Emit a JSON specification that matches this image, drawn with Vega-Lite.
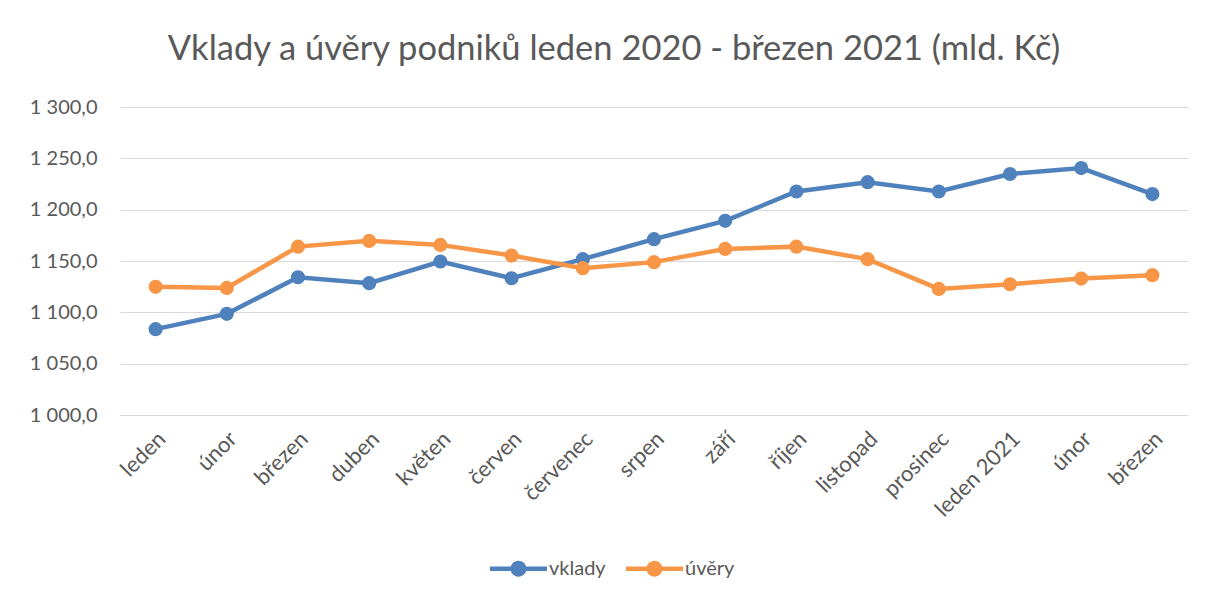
{
  "$schema": "https://vega.github.io/schema/vega-lite/v6.json",
  "width": 1068,
  "height": 308,
  "autosize": "none",
  "padding": {"left": 120, "top": 107, "right": 19, "bottom": 186},
  "background": "white",
  "config": {
    "locale": {"number": {"decimal": ",", "thousands": " ", "grouping": [3], "currency": ["", " Kč"]}},
    "font": "Lato",
    "view": {"stroke": null},
    "axis": {"labelFont": "Lato", "labelColor": "#595959", "labelFontSize": 20}
  },
  "title": {
    "text": "Vklady a úvěry podniků leden 2020 - březen 2021 (mld. Kč)",
    "font": "Lato",
    "fontSize": 34.5,
    "fontWeight": "normal",
    "color": "#595959",
    "anchor": "middle",
    "offset": 30,
    "dx": -40
  },
  "data": {
    "values": [
      {"mesic": "leden", "i": 1, "rada": "vklady", "hodnota": 1083.6},
      {"mesic": "únor", "i": 2, "rada": "vklady", "hodnota": 1098.5},
      {"mesic": "březen", "i": 3, "rada": "vklady", "hodnota": 1134.2},
      {"mesic": "duben", "i": 4, "rada": "vklady", "hodnota": 1128.4},
      {"mesic": "květen", "i": 5, "rada": "vklady", "hodnota": 1149.5},
      {"mesic": "červen", "i": 6, "rada": "vklady", "hodnota": 1133.2},
      {"mesic": "červenec", "i": 7, "rada": "vklady", "hodnota": 1151.8},
      {"mesic": "srpen", "i": 8, "rada": "vklady", "hodnota": 1171.3},
      {"mesic": "září", "i": 9, "rada": "vklady", "hodnota": 1189.1},
      {"mesic": "říjen", "i": 10, "rada": "vklady", "hodnota": 1217.7},
      {"mesic": "listopad", "i": 11, "rada": "vklady", "hodnota": 1226.8},
      {"mesic": "prosinec", "i": 12, "rada": "vklady", "hodnota": 1217.7},
      {"mesic": "leden 2021", "i": 13, "rada": "vklady", "hodnota": 1234.7},
      {"mesic": "únor ", "i": 14, "rada": "vklady", "hodnota": 1240.5},
      {"mesic": "březen ", "i": 15, "rada": "vklady", "hodnota": 1215.2},
      {"mesic": "leden", "i": 1, "rada": "úvěry", "hodnota": 1124.8},
      {"mesic": "únor", "i": 2, "rada": "úvěry", "hodnota": 1123.8},
      {"mesic": "březen", "i": 3, "rada": "úvěry", "hodnota": 1164.0},
      {"mesic": "duben", "i": 4, "rada": "úvěry", "hodnota": 1169.6},
      {"mesic": "květen", "i": 5, "rada": "úvěry", "hodnota": 1165.7},
      {"mesic": "červen", "i": 6, "rada": "úvěry", "hodnota": 1155.3},
      {"mesic": "červenec", "i": 7, "rada": "úvěry", "hodnota": 1143.0},
      {"mesic": "srpen", "i": 8, "rada": "úvěry", "hodnota": 1148.9},
      {"mesic": "září", "i": 9, "rada": "úvěry", "hodnota": 1161.8},
      {"mesic": "říjen", "i": 10, "rada": "úvěry", "hodnota": 1164.0},
      {"mesic": "listopad", "i": 11, "rada": "úvěry", "hodnota": 1151.8},
      {"mesic": "prosinec", "i": 12, "rada": "úvěry", "hodnota": 1122.8},
      {"mesic": "leden 2021", "i": 13, "rada": "úvěry", "hodnota": 1127.4},
      {"mesic": "únor ", "i": 14, "rada": "úvěry", "hodnota": 1132.9},
      {"mesic": "březen ", "i": 15, "rada": "úvěry", "hodnota": 1136.2}
    ]
  },
  "encoding": {
    "x": {
      "field": "mesic",
      "type": "nominal",
      "sort": {"field": "i"},
      "scale": {"type": "point", "padding": 0.5},
      "axis": {
        "title": null,
        "labelAngle": -45,
        "labelAlign": "right",
        "labelBaseline": "middle",
        "labelFontSize": 22,
        "labelPadding": 20,
        "labelOffset": 6,
        "ticks": false,
        "domain": true,
        "domainColor": "#d9d9d9",
        "domainWidth": 1,
        "grid": false
      }
    },
    "y": {
      "field": "hodnota",
      "type": "quantitative",
      "scale": {"domain": [1000, 1300], "nice": false, "zero": false},
      "axis": {
        "title": null,
        "values": [1000, 1050, 1100, 1150, 1200, 1250, 1300],
        "format": ",.1f",
        "ticks": false,
        "domain": false,
        "labelPadding": 23,
        "gridColor": "#d9d9d9",
        "gridWidth": 1
      }
    },
    "color": {
      "field": "rada",
      "type": "nominal",
      "sort": ["vklady", "úvěry"],
      "scale": {"domain": ["vklady", "úvěry"], "range": ["#4f81bd", "#f79646"]},
      "legend": {
        "title": null,
        "orient": "none",
        "legendX": 370,
        "legendY": 433,
        "direction": "horizontal",
        "labelFont": "Lato",
        "labelFontSize": 20,
        "labelColor": "#595959",
        "symbolType": "M -1 -0.08 L 1 -0.08 L 1 0.08 L -1 0.08 Z M -0.28 0 A 0.28 0.28 0 1 1 0.28 0 A 0.28 0.28 0 1 1 -0.28 0 Z",
        "symbolSize": 3249,
        "symbolStrokeWidth": 0,
        "labelOffset": 2,
        "columnPadding": 20
      }
    }
  },
  "layer": [
    {"mark": {"type": "line", "strokeWidth": 4.5, "interpolate": "linear"}},
    {"mark": {"type": "point", "filled": true, "opacity": 1, "size": 200}}
  ]
}
